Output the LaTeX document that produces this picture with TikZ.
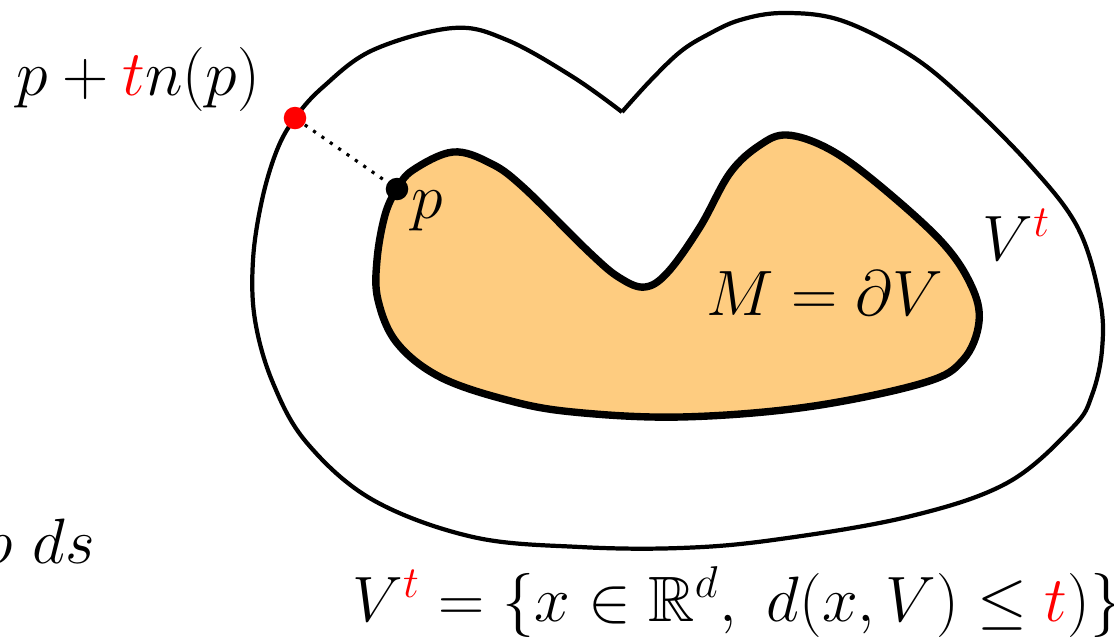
\documentclass[tikz,border=0pt]{standalone}
\usepackage{amssymb}
\definecolor{fillorange}{RGB}{254,204,128}
\newcommand{\lblscale}[1]{\scalebox{1.055}{#1}}
\tikzset{
  lbl/.style={inner sep=0pt, anchor=base west, font=\LARGE},
  outerline/.style={line width=1.2pt, line join=round},
  innerline/.style={line width=2.1pt, fill=fillorange},
  dotmark/.style={circle, inner sep=0pt, minimum size=0.225cm},
}
\begin{document}
\begin{tikzpicture}[x=0.01cm,y=-0.01cm]
\useasboundingbox (0,0) rectangle (1114,638);
% inner region M = boundary of V
\draw[innerline] plot[smooth cycle, tension=0.6] coordinates {
 (397,189) (413,170) (453,152) (490,163) (523,187) (590,253) (620,278) (645,287)
 (668,272) (700,227) (730,173) (760,145) (787,135) (827,148) (873,180) (940,240)
 (971,285) (979,322) (963,360) (923,383) (807,407) (680,417) (573,412) (507,400)
 (440,377) (397,343) (378,300) (377,260) (385,215)};
% outer curve V^t
\draw[outerline] plot[smooth, tension=0.6] coordinates {
 (622,112) (650,81) (680,52) (707,35) (740,20) (783,13) (840,20) (907,53)
 (960,95) (1030,165) (1078,228) (1100,300) (1102,350) (1092,395)
 (1073,427) (1007,483) (907,517) (773,540) (680,548) (580,547) (473,537)
 (373,500) (307,443) (273,383) (255,320) (253,260) (262,200) (277,150)
 (295,118) (323,87) (373,50) (453,28) (507,40) (573,77) (622,112)};
% points
\node[dotmark, fill=red] (q) at (295,118) {};
\node[dotmark, fill=black] (p) at (397,189) {};
\draw[line width=0.9pt, dotted] (q) -- (p);
% labels
\node[lbl] (lq) at (16,95) {\lblscale{$p + {\color{red}t}n(p)$}};
\node[lbl] (lp) at (411,218) {\lblscale{$p$}};
\node[lbl] (lm) at (706,315) {\lblscale{$M = \partial V$}};
\node[lbl] (lv) at (982,260) {\lblscale{$V^{\color{red}t}$}};
\node[lbl] (lf) at (352,621) {\lblscale{$V^{\color{red}t} = \{x \in \mathbb{R}^d,\ d(x,V) \le {\color{red}t})\}$}};
\node[lbl] (lr) at (-20,563) {\lblscale{$\rho\ ds$}};
\end{tikzpicture}
\end{document}
